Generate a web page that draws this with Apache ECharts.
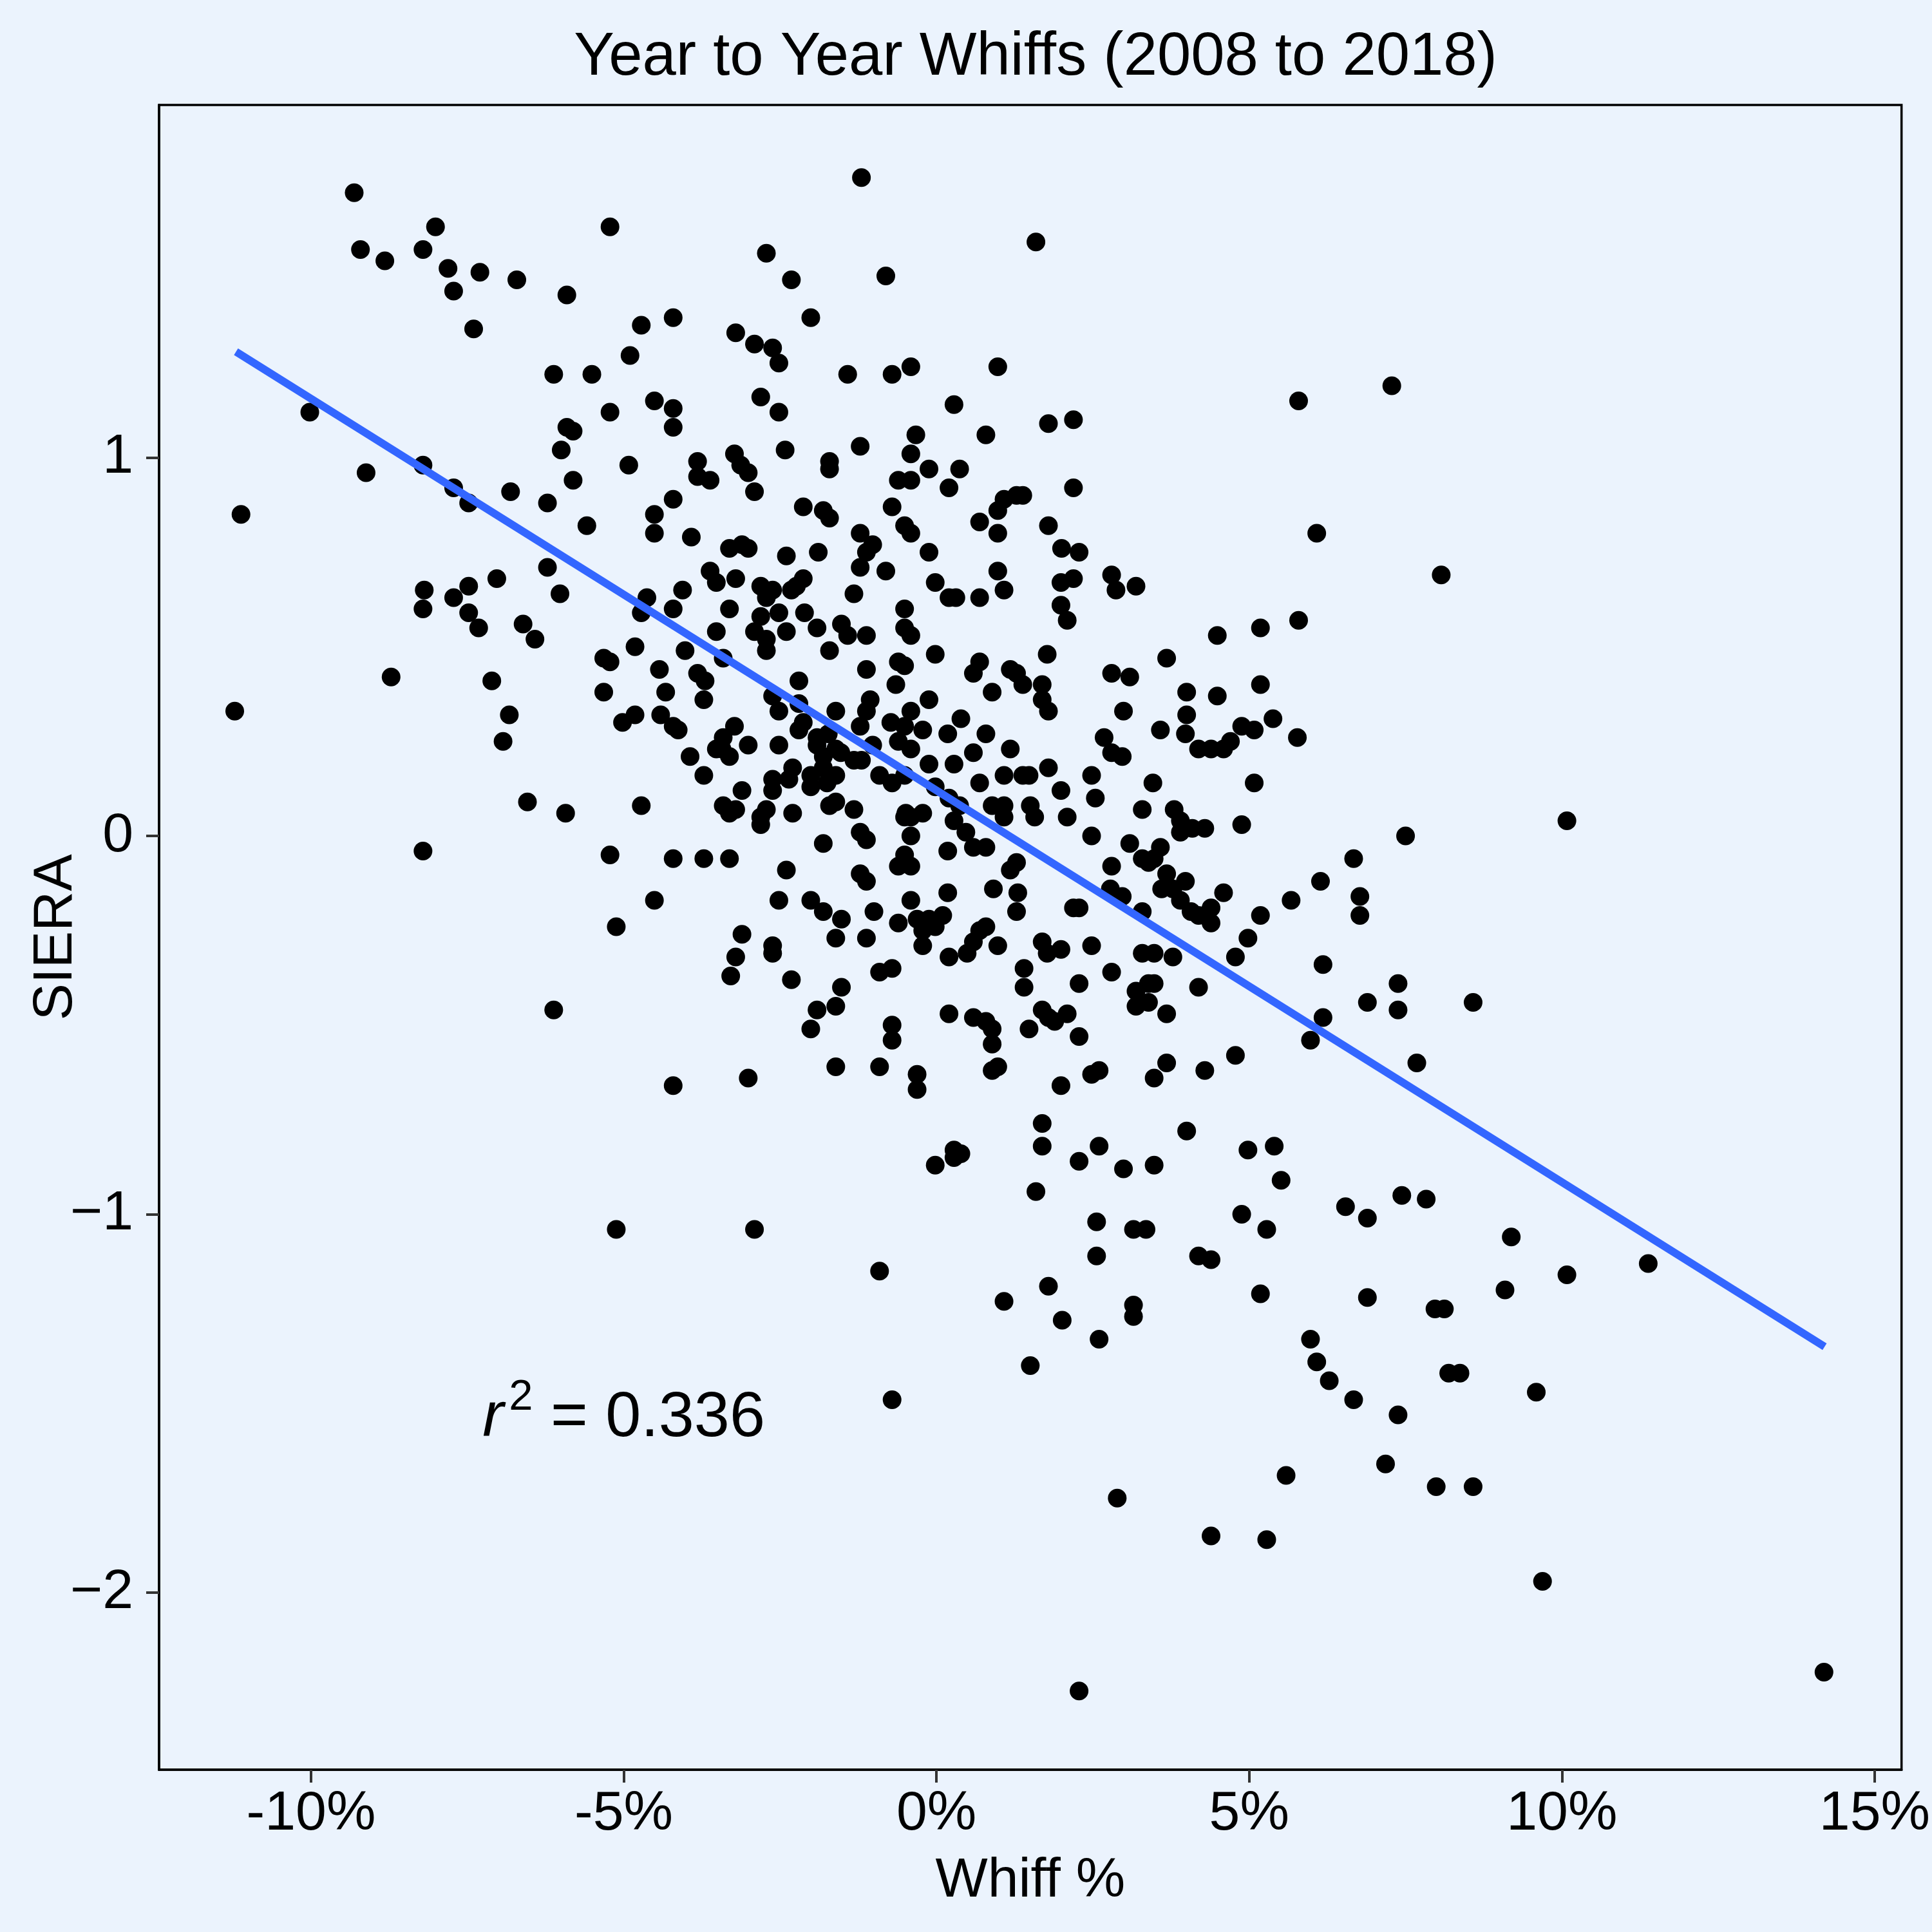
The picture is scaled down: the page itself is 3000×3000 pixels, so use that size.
<!DOCTYPE html>
<html>
<head>
<meta charset="utf-8">
<script src="https://cdn.jsdelivr.net/npm/echarts@6/dist/echarts.min.js"></script>
<style>html,body{margin:0;padding:0;background:#EBF3FD;}#c{width:3000px;height:3000px;}</style>
</head>
<body>
<div id="c"></div>
<script>
// Change in whiff rate (percentage points), year to year
const whiffChange = [
-9.31,-1.20,-8.01,-5.22,-9.21,-8.21,-8.82,-7.81,-7.30,-7.72,-6.71,-5.91,-7.40,1.59,-2.72,-0.81,-2.32,-2.01,-4.21,-4.72,
-3.21,-2.91,-2.62,-4.90,-2.52,-0.41,0.98,-1.42,-6.12,-5.51,-2.81,-4.51,0.28,5.79,7.28,-4.21,-2.52,-5.22,-10.02,2.19,
1.79,-5.91,-5.81,-4.21,-0.33,0.79,-1.22,-2.42,-6.00,-3.23,-0.41,-4.92,-1.71,-1.71,-3.82,-8.21,-9.12,-3.13,-0.12,0.37,
-3.82,-3.01,-3.62,-5.81,-0.61,-0.41,-7.72,-2.91,-6.81,0.20,2.19,-4.21,1.28,1.38,1.08,0.98,-7.48,-6.22,-0.71,-2.13,
-1.81,-1.71,1.79,0.69,-0.41,-4.51,0.98,6.08,-5.59,-1.22,-0.51,-3.92,-3.11,-1.02,-1.12,-0.12,2.28,2.00,-3.31,-3.01,
-2.40,-1.89,-6.22,-1.22,-0.81,0.98,-3.62,8.07,-7.03,-8.19,-7.48,-3.21,-2.13,-3.52,1.99,2.19,2.80,3.19,-2.81,-0.02,
1.08,2.87,-2.62,-2.72,0.69,0.20,0.31,-6.02,-4.63,-7.72,-2.32,-1.32,-8.21,-7.48,-0.51,1.99,2.09,5.79,-2.81,-2.52,
-2.11,-4.72,-1.91,-3.31,-6.61,-7.32,5.18,-3.52,-2.91,-0.51,-1.12,-0.41,-1.42,4.49,-2.72,-6.42,-4.82,-4.02,-0.02,-2.72,
1.77,3.68,-5.32,-5.22,-3.41,-1.71,-0.61,0.69,-4.43,-3.82,-0.51,-1.12,0.59,1.18,1.28,2.80,3.09,5.18,1.38,1.69,
-2.20,-3.70,-7.11,-8.72,4.00,-4.33,-5.32,0.89,-0.65,4.49,-3.72,-0.12,-2.62,-1.06,1.69,-2.20,-2.52,-1.12,-0.41,1.79,
2.99,5.38,4.00,-1.61,-0.73,0.39,-4.41,-4.82,-5.02,-6.83,-2.13,-3.23,-1.22,-0.51,5.08,4.88,-4.21,-4.13,-2.20,-1.73,
-0.22,0.18,0.79,3.58,4.70,5.77,-0.61,2.68,-1.91,-3.41,-3.01,-1.02,-3.43,4.19,4.39,4.59,3.98,-6.93,-1.91,-3.52,
-1.61,-0.41,0.59,1.18,2.80,2.97,-1.53,-1.81,-1.32,-3.31,-3.94,0.28,-2.52,-2.30,-1.81,-1.20,-0.12,1.79,-3.72,-1.61,
-2.01,-0.51,1.38,1.48,2.48,-2.36,-2.62,-0.91,-1.75,3.46,-2.01,-0.71,0.69,-0.02,1.08,-2.62,-3.11,1.99,5.08,0.20,
2.54,0.37,-3.41,-1.61,-1.71,0.89,1.08,1.50,-6.54,-4.72,-3.21,-2.72,-2.30,-1.32,-0.49,-0.22,3.29,3.80,-3.31,-0.41,
1.08,3.90,-5.93,-2.81,0.28,2.09,1.57,-0.51,-2.81,4.29,4.09,4.88,10.08,7.50,3.90,-0.41,-1.22,-1.12,0.47,-1.81,
2.48,3.09,0.59,0.79,-8.21,-5.22,-4.21,-3.72,-3.31,-0.51,0.18,6.67,3.29,3.58,3.48,3.39,1.28,1.18,-2.40,-0.61,
-1.22,-1.12,3.68,3.98,3.78,6.14,2.80,-0.41,2.78,3.60,4.59,6.77,5.67,0.91,2.97,1.30,-0.41,0.18,-4.51,-2.52,
-2.01,-1.81,-1.00,1.28,2.19,2.28,3.29,3.90,4.07,4.39,4.19,4.29,4.39,6.77,5.18,0.10,-0.12,-0.31,-1.52,-0.02,
-0.61,-5.12,0.79,0.69,-0.22,-3.11,-1.61,-1.12,0.59,0.98,1.69,4.98,-2.62,-0.22,2.48,1.99,3.29,3.48,0.20,1.77,
-2.62,-3.21,0.49,3.78,4.78,6.18,1.40,-0.71,-0.91,2.80,-3.29,-2.32,2.28,3.39,3.48,7.38,4.19,-1.52,1.40,3.19,
6.89,8.58,3.39,3.19,-1.61,1.69,7.38,-6.12,-1.91,2.09,0.20,3.68,6.18,1.79,0.59,1.89,0.79,1.48,0.89,-2.01,
-0.71,2.28,-0.71,0.89,5.98,4.78,3.68,7.68,-1.61,-0.91,0.98,0.89,2.60,2.48,-0.31,3.48,4.29,-3.01,1.99,-4.21,
-0.31,1.69,4.00,1.69,2.60,0.28,0.39,5.40,4.98,0.28,2.28,3.48,-0.02,2.99,5.51,1.59,7.44,7.83,6.54,4.88,
6.89,2.56,3.15,3.35,-5.12,-2.91,5.28,9.19,2.56,4.19,4.39,11.38,-0.91,10.08,1.79,9.09,5.18,6.89,1.08,3.15,
3.15,7.97,8.12,2.01,5.98,2.60,6.08,1.50,8.19,8.37,6.28,-0.71,9.59,6.67,7.38,7.18,5.59,7.99,8.58,2.89,
4.39,5.28,9.69,2.28,14.19,-11.12,-11.22,-4.06,-0.71,-4.21,-4.51,-2.24,-2.40,-1.52
];
// Change in SIERA, year to year (same order)
const sieraChange = [
1.70,1.74,1.61,1.61,1.55,1.55,1.52,1.50,1.49,1.44,1.47,1.43,1.34,1.57,1.54,1.48,1.47,1.37,1.37,1.35,
1.33,1.30,1.29,1.27,1.25,1.24,1.24,1.22,1.22,1.22,1.16,1.15,1.14,1.15,1.19,1.13,1.12,1.12,1.12,1.10,
1.09,1.08,1.07,1.08,1.06,1.06,1.03,1.02,1.02,1.01,1.01,0.98,0.99,0.97,0.99,0.98,0.96,0.98,0.97,0.97,
0.95,0.96,0.94,0.94,0.94,0.94,0.92,0.91,0.91,0.92,0.92,0.89,0.90,0.90,0.89,0.86,0.88,0.88,0.87,0.87,
0.86,0.84,0.82,0.83,0.80,0.80,0.80,0.80,0.82,0.80,0.82,0.79,0.77,0.77,0.75,0.75,0.75,0.76,0.76,0.76,
0.74,0.75,0.71,0.71,0.70,0.70,0.70,0.69,0.68,0.65,0.66,0.68,0.68,0.67,0.67,0.68,0.69,0.66,0.66,0.67,
0.65,0.65,0.65,0.63,0.63,0.63,0.63,0.64,0.63,0.63,0.65,0.64,0.60,0.59,0.60,0.61,0.57,0.57,0.58,0.59,
0.59,0.59,0.55,0.60,0.56,0.55,0.55,0.54,0.54,0.55,0.53,0.53,0.53,0.53,0.52,0.52,0.50,0.49,0.48,0.49,
0.48,0.47,0.47,0.46,0.47,0.49,0.46,0.46,0.44,0.43,0.45,0.44,0.43,0.44,0.43,0.43,0.42,0.40,0.40,0.40,
0.41,0.41,0.41,0.42,0.38,0.38,0.38,0.38,0.40,0.37,0.36,0.36,0.37,0.36,0.36,0.35,0.33,0.33,0.33,0.33,
0.33,0.31,0.32,0.33,0.30,0.31,0.32,0.32,0.30,0.32,0.30,0.29,0.29,0.29,0.28,0.29,0.29,0.28,0.28,0.27,
0.28,0.27,0.27,0.28,0.25,0.26,0.25,0.26,0.26,0.26,0.24,0.24,0.23,0.23,0.23,0.23,0.27,0.25,0.24,0.23,
0.23,0.23,0.22,0.23,0.22,0.21,0.22,0.21,0.20,0.21,0.21,0.19,0.24,0.18,0.18,0.20,0.19,0.18,0.16,0.16,
0.16,0.16,0.16,0.16,0.16,0.15,0.15,0.16,0.14,0.14,0.13,0.14,0.14,0.13,0.16,0.12,0.12,0.12,0.14,0.10,
0.10,0.08,0.08,0.09,0.08,0.08,0.08,0.08,0.09,0.08,0.07,0.07,0.06,0.07,0.06,0.06,0.07,0.07,0.06,0.05,
0.05,0.04,0.06,0.05,0.04,0.05,0.05,0.05,0.03,0.02,0.02,0.03,0.04,0.00,0.01,0.00,0.01,-0.01,0.01,-0.02,
0.00,-0.02,-0.03,-0.03,-0.04,-0.05,-0.06,-0.06,-0.06,-0.05,-0.04,-0.06,-0.06,-0.03,-0.06,-0.07,-0.07,-0.09,-0.09,-0.08,
-0.10,-0.12,-0.10,-0.12,-0.14,-0.12,-0.08,-0.08,-0.14,-0.14,-0.15,-0.16,-0.17,-0.14,-0.16,-0.15,-0.17,-0.15,-0.17,-0.17,
-0.17,-0.20,-0.20,-0.20,-0.19,-0.19,-0.20,-0.17,-0.20,-0.19,-0.21,-0.21,-0.23,-0.21,-0.21,-0.21,-0.22,-0.22,-0.22,-0.24,
-0.23,-0.24,-0.24,-0.25,-0.25,-0.26,-0.27,-0.27,-0.28,-0.29,-0.28,-0.27,-0.29,-0.29,-0.29,-0.30,-0.31,-0.31,-0.32,-0.31,
-0.31,-0.32,-0.31,-0.32,-0.32,-0.34,-0.35,-0.35,-0.36,-0.36,-0.37,-0.38,-0.39,-0.39,-0.39,-0.39,-0.40,-0.40,-0.40,-0.41,
-0.44,-0.44,-0.44,-0.45,-0.45,-0.46,-0.46,-0.46,-0.46,-0.47,-0.47,-0.47,-0.48,-0.48,-0.48,-0.49,-0.49,-0.51,-0.51,-0.51,
-0.50,-0.53,-0.54,-0.55,-0.54,-0.58,-0.60,-0.60,-0.61,-0.61,-0.61,-0.62,-0.62,-0.63,-0.63,-0.64,-0.62,-0.64,-0.66,-0.66,
-0.67,-0.76,-0.78,-0.82,-0.82,-0.83,-0.84,-0.82,-0.83,-0.85,-0.86,-0.87,-0.87,-0.88,-0.91,-0.94,-0.95,-0.96,-0.98,-1.00,
-1.01,-1.02,-1.04,-1.04,-1.04,-1.04,-1.04,-1.06,-1.11,-1.11,-1.12,-1.13,-1.15,-1.16,-1.19,-1.20,-1.21,-1.22,-1.23,-1.24,
-1.27,-1.25,-1.25,-1.28,-1.33,-1.33,-1.39,-1.40,-1.42,-1.42,-1.44,-1.49,-1.47,-1.49,-1.53,-1.66,-1.69,-1.72,-1.72,-1.75,
-1.85,-1.86,-1.97,-2.26,-2.21,0.85,0.33,0.65,1.22,0.60,0.85,0.66,0.54,0.56
];
// Least-squares line as drawn in the reference (endpoints)
const fitX = [-11.2, 14.2];
const fitY = [1.28, -1.35];
// Annotation
const annotX = -5.0;
const annotY = -1.54;
const annotR2 = '0.336';
// Axis ticks
const xTicks = [-10, -5, 0, 5, 10, 15];
const yTicks = [-2, -1, 0, 1];
const xRange = [-12.43, 15.43];
const yRange = [-2.468, 1.932];

const points = whiffChange.map((x, i) => [x, sieraChange[i]]);
const fitData = fitX.map((x, i) => [x, fitY[i]]);

const FONT = '"Liberation Sans", Arial, sans-serif';
const chart = echarts.init(document.getElementById('c'), null, {renderer: 'canvas'});
chart.setOption({
  backgroundColor: '#EBF3FD',
  animation: false,
  title: {
    text: 'Year to Year Whiffs (2008 to 2018)',
    left: 1603, top: 38, textAlign: 'center',
    textStyle: {fontFamily: FONT, fontSize: 94, fontWeight: 'normal', color: '#000', lineHeight: 94}
  },
  grid: {left: 247, right: 41, top: 163, bottom: 252, show: true, borderColor: '#000', borderWidth: 3.5, backgroundColor: 'transparent'},
  xAxis: {
    type: 'value', min: xRange[0], max: xRange[1],
    name: 'Whiff %', nameLocation: 'middle', nameGap: 130, nameMoveOverlap: false,
    nameTextStyle: {fontFamily: FONT, fontSize: 86, color: '#000', lineHeight: 86},
    axisLine: {show: true, onZero: false, lineStyle: {color: '#000', width: 3.5}},
    axisTick: {show: true, customValues: xTicks, length: 20, lineStyle: {color: '#333', width: 4}},
    axisLabel: {customValues: xTicks, formatter: v => v + '%', fontFamily: FONT, fontSize: 86, color: '#000', margin: 26, lineHeight: 86},
    splitLine: {show: false}
  },
  yAxis: {
    type: 'value', min: yRange[0], max: yRange[1],
    name: 'SIERA', nameLocation: 'middle', nameGap: 117, nameMoveOverlap: false,
    nameTextStyle: {fontFamily: FONT, fontSize: 86, color: '#000', lineHeight: 86},
    axisLine: {show: true, onZero: false, lineStyle: {color: '#000', width: 3.5}},
    axisTick: {show: true, customValues: yTicks, length: 20, lineStyle: {color: '#333', width: 4}},
    axisLabel: {customValues: yTicks, formatter: v => (v < 0 ? '\u2212' + Math.abs(v) : String(v)), fontFamily: FONT, fontSize: 86, color: '#000', margin: 40},
    splitLine: {show: false}
  },
  series: [
    {
      type: 'scatter', data: points, symbol: 'circle', symbolSize: 29,
      itemStyle: {color: '#000', opacity: 1}, z: 2, silent: true
    },
    {
      type: 'line', data: fitData, showSymbol: false, symbol: 'none',
      lineStyle: {color: '#3366FF', width: 12}, z: 3, silent: true
    },
    {
      type: 'scatter', data: [[annotX, annotY]], symbolSize: 1, z: 4, silent: true,
      itemStyle: {color: 'rgba(0,0,0,0)'},
      label: {
        show: true, position: 'inside', align: 'center', verticalAlign: 'middle',
        color: '#000', textBorderWidth: 0, opacity: 1,
        formatter: '{r|r}{s|2}{t| = ' + annotR2 + '}',
        rich: {
          r: {fontFamily: FONT, fontStyle: 'italic', fontSize: 99, color: '#000', textBorderWidth: 0, verticalAlign: 'bottom', lineHeight: 99},
          s: {fontFamily: FONT, fontSize: 67, color: '#000', textBorderWidth: 0, verticalAlign: 'bottom', padding: [0, 0, 48, 8], lineHeight: 67},
          t: {fontFamily: FONT, fontSize: 99, color: '#000', textBorderWidth: 0, verticalAlign: 'bottom', lineHeight: 99}
        }
      }
    }
  ]
});
</script>
</body>
</html>
